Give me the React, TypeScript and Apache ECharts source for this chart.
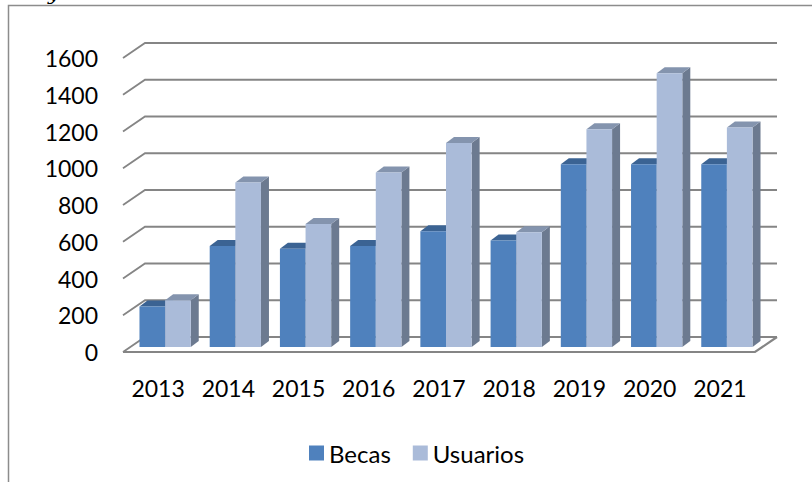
import React, { useEffect, useRef } from "react";
import * as echarts from "echarts";

const categories = ["2013", "2014", "2015", "2016", "2017", "2018", "2019", "2020", "2021"];
const becas = [220, 550, 535, 550, 630, 580, 995, 995, 995];
const usuarios = [255, 895, 670, 950, 1110, 625, 1185, 1490, 1195];
const yTicks = [0, 200, 400, 600, 800, 1000, 1200, 1400, 1600];
const seriesNames = ["Becas", "Usuarios"];

const FONT = "Lato, 'Open Sans', sans-serif";
const DEPTH_X = 22;
const DEPTH_Y = -15;
const BAR_OFF_X = 7;
const BAR_OFF_Y = -5;
const BAR_DX = 8;
const BAR_DY = -6;

const faceColors = [
  { front: "#4F81BD", top: "#3B6393", side: "#34567F" },
  { front: "#AABBD9", top: "#8494AE", side: "#6C7A90" },
];

function makeBarRender(s: number) {
  return (params: any, api: any) => {
    const i = api.value(0);
    const v = api.value(1);
    const base = api.coord([i, 0]);
    const topPt = api.coord([i, v]);
    const bw = api.size([1, 0])[0] * 0.365;
    const cx = base[0] + BAR_OFF_X;
    const x0 = cx - bw + s * bw;
    const yb = base[1] + BAR_OFF_Y;
    const yt = topPt[1] + BAR_OFF_Y;
    const c = faceColors[s];
    return {
      type: "group",
      children: [
        {
          type: "polygon",
          shape: { points: [[x0 + bw, yt], [x0 + bw + BAR_DX, yt + BAR_DY], [x0 + bw + BAR_DX, yb + BAR_DY], [x0 + bw, yb]] },
          style: { fill: c.side },
        },
        {
          type: "polygon",
          shape: { points: [[x0, yt], [x0 + BAR_DX, yt + BAR_DY], [x0 + bw + BAR_DX, yt + BAR_DY], [x0 + bw, yt]] },
          style: { fill: c.top },
        },
        {
          type: "rect",
          shape: { x: x0, y: yt, width: bw, height: yb - yt },
          style: { fill: c.front },
        },
      ],
    };
  };
}

function gridRender(params: any, api: any) {
  const v = api.value(1);
  const cs = params.coordSys;
  const left = cs.x;
  const right = cs.x + cs.width;
  const y = api.coord([0, v])[1];
  const children: any[] = [
    {
      type: "polyline",
      shape: { points: [[left, y], [left + DEPTH_X, y + DEPTH_Y], [right + DEPTH_X, y + DEPTH_Y]] },
      style: { stroke: "#858585", lineWidth: 1.8, fill: null },
    },
  ];
  if (v === 0) {
    children.push({
      type: "polyline",
      shape: { points: [[left, y], [right, y], [right + DEPTH_X, y + DEPTH_Y]] },
      style: { stroke: "#858585", lineWidth: 2.2, fill: null },
    });
  }
  return { type: "group", children };
}

export default function App() {
  const ref = useRef<HTMLDivElement>(null);
  useEffect(() => {
    if (!ref.current) return;
    const chart = echarts.init(ref.current, null, { renderer: "svg" });
    chart.setOption({
      animation: false,
      backgroundColor: "#ffffff",
      textStyle: { fontFamily: FONT },
      grid: { left: 123, right: 57, top: 58, bottom: 130, containLabel: false },
      xAxis: {
        type: "category",
        data: categories,
        axisLine: { show: false },
        axisTick: { show: false },
        splitLine: { show: false },
        axisLabel: { color: "#000", fontSize: 23, fontFamily: FONT, margin: 24 },
      },
      yAxis: {
        type: "value",
        min: 0,
        max: 1600,
        interval: 200,
        axisLine: { show: false },
        axisTick: { show: false },
        splitLine: { show: false },
        axisLabel: {
          color: "#000",
          fontSize: 23,
          fontFamily: FONT,
          margin: 25,
          formatter: (v: number) => String(v),
        },
      },
      legend: {
        data: seriesNames,
        left: 304,
        top: 436,
        icon: "rect",
        itemWidth: 15,
        itemHeight: 15,
        itemGap: 22,
        textStyle: { color: "#000", fontSize: 24, fontFamily: FONT },
      },
      graphic: [
        {
          type: "rect",
          shape: { x: 8.5, y: 5.5, width: 1000, height: 1000 },
          style: { stroke: "#8c8c8c", lineWidth: 1.5, fill: null },
        },
        {
          type: "text",
          x: 48,
          y: -17,
          style: { text: "y", font: "italic 20px 'DejaVu Serif', serif", fill: "#000", textVerticalAlign: "top" },
        },
      ],
      series: [
        {
          type: "custom",
          name: "grid",
          renderItem: gridRender,
          data: yTicks.map((t) => [0, t]),
          silent: true,
          z: 1,
        },
        {
          type: "custom",
          name: seriesNames[0],
          renderItem: makeBarRender(0),
          itemStyle: { color: faceColors[0].front },
          data: becas.map((v, i) => [i, v]),
          z: 2,
        },
        {
          type: "custom",
          name: seriesNames[1],
          renderItem: makeBarRender(1),
          itemStyle: { color: faceColors[1].front },
          data: usuarios.map((v, i) => [i, v]),
          z: 3,
        },
      ],
    });
    return () => chart.dispose();
  }, []);
  return <div ref={ref} style={{ position: "fixed", left: 0, top: 0, width: 812, height: 482 }} />;
}
